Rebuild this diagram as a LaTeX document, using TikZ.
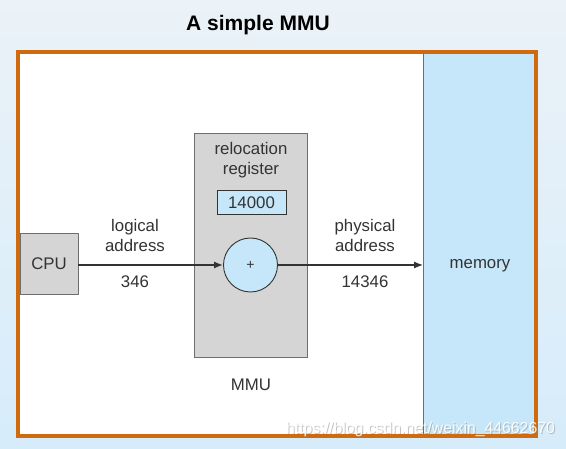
\documentclass[tikz,border=0pt]{standalone}
\usepackage{fontspec}
\setmainfont{Liberation Sans}
\usetikzlibrary{arrows.meta}
\definecolor{bgtop}{HTML}{EBF2F8}
\definecolor{bgbot}{HTML}{D6ECFA}
\definecolor{frameor}{HTML}{CF6A0E}
\definecolor{memblue}{HTML}{C6E7F9}
\definecolor{boxgray}{HTML}{D5D5D5}
\definecolor{txt}{HTML}{333333}
\definecolor{edge}{HTML}{6E6E6E}
\tikzset{
  lbl/.style={text=txt, font=\fontsize{16.8}{19.5}\selectfont, align=center, inner sep=0pt},
  graybox/.style={draw=edge, line width=0.8pt, fill=boxgray, inner sep=0pt},
  bluebox/.style={draw=txt, line width=0.9pt, fill=memblue, inner sep=0pt},
  conn/.style={draw=txt, line width=1.4pt, -{Latex[length=9pt,width=7pt]}},
  wmark/.style={font=\fontsize{15.8}{19}\selectfont, inner sep=0pt},
}
\begin{document}
\begin{tikzpicture}[x=1pt,y=-1pt]
\shade[top color=bgtop, bottom color=bgbot] (0,0) rectangle (566,449);
\useasboundingbox (0,0) rectangle (566,449);
% title
\node[font=\bfseries\fontsize{21}{24}\selectfont, text=black] (title) at (258,25) {A simple MMU};
% white inner area
\fill[white] (18,52) rectangle (536,436);
% memory
\node[draw=edge, line width=0.8pt, fill=memblue, minimum width=113pt, minimum height=384pt, inner sep=0pt] (mem) at (480,244) {};
\node[lbl] (memtxt) at (480,266) {memory};
% frame
\draw[frameor, line width=4pt] (18,52) rectangle (536,436);
% CPU
\node[graybox, minimum width=58pt, minimum height=61pt] (cpu) at (49,263.5) {};
\node[lbl] (cputxt) at (cpu.center) {CPU};
% MMU
\node[graybox, minimum width=113pt, minimum height=224pt] (mmu) at (250.5,245) {};
\node[lbl] (reloc) at (251,160) {relocation\\register};
\node[bluebox, minimum width=69pt, minimum height=23.5pt] (reg) at (251.5,202.5) {};
\node[lbl] (regtxt) at (reg.center) {14000};
\node[bluebox, circle, minimum size=54pt] (add) at (250.5,265) {};
\node[text=txt, font=\fontsize{14}{16}\selectfont, inner sep=0pt] (plus) at (add.center) {+};
\node[lbl] (mmutxt) at (251,385) {MMU};
% connectors
\draw[conn] (cpu.east |- add.center) -- (add.west);
\draw[conn] (add.east) -- (mem.west |- add.center);
% labels
\node[lbl] (la) at (135,235.5) {logical\\address};
\node[lbl] (lv) at (135,281.5) {346};
\node[lbl] (pa) at (365,235.5) {physical\\address};
\node[lbl] (pv) at (365,281.5) {14346};
% watermark
\node[wmark, text=gray, opacity=0.45] (wmsh) at (421.5,430) {https://blog.csdn.net/weixin\_44662670};
\node[wmark, text=white, opacity=0.9] (wm) at (420.5,429) {https://blog.csdn.net/weixin\_44662670};
\end{tikzpicture}
\end{document}
